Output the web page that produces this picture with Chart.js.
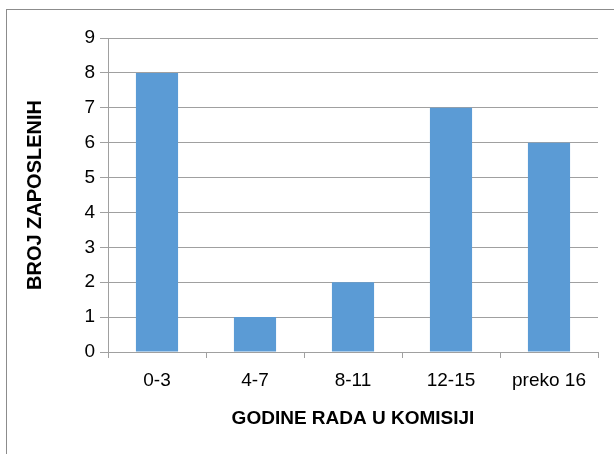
<!DOCTYPE html>
<html>
<head>
<meta charset="utf-8">
<script src="https://cdn.jsdelivr.net/npm/chart.js@4"></script>
<style>
    html, body { margin: 0; padding: 0; background: #fff; overflow: hidden; }
    #wrap { position: relative; width: 614px; height: 454px; }
    #frame {
        position: absolute; left: 6px; top: 9px; width: 700px; height: 500px;
        border-top: 1px solid #8c8c8c; border-left: 1px solid #8c8c8c;
    }
    canvas { position: absolute; left: 0; top: 0; }
</style>
</head>
<body>
<div id="wrap">
    <div id="frame"></div>
    <canvas id="chart" width="614" height="454"></canvas>
</div>
<script>
// Chart data
const categories = ['0-3', '4-7', '8-11', '12-15', 'preko 16'];
const employees = [8, 1, 2, 7, 6];
const yTicks = [0, 1, 2, 3, 4, 5, 6, 7, 8, 9];

const xTitle = 'GODINE RADA U KOMISIJI';
const yTitle = 'BROJ ZAPOSLENIH';

const FONT = "'Liberation Sans', Arial, sans-serif";
const gridColor = '#a0a0a0';

Chart.defaults.font.family = FONT;
Chart.defaults.color = '#000';

new Chart(document.getElementById('chart').getContext('2d'), {
    type: 'bar',
    data: {
        labels: categories,
        datasets: [{
            data: employees,
            backgroundColor: '#5b9bd5',
            borderWidth: 0,
            barPercentage: 0.86,
            categoryPercentage: 0.5
        }]
    },
    options: {
        responsive: false,
        animation: false,
        layout: {
            padding: { top: 38, right: 16, left: 0, bottom: 0 }
        },
        plugins: {
            legend: { display: false },
            tooltip: { enabled: false }
        },
        scales: {
            x: {
                grid: {
                    drawOnChartArea: false,
                    color: gridColor,
                    tickLength: 6
                },
                border: { color: gridColor },
                ticks: {
                    font: { size: 19 },
                    padding: 11
                },
                title: {
                    display: true,
                    text: xTitle,
                    font: { size: 19, weight: 'bold' },
                    padding: { top: 0, bottom: 24 }
                },
                afterFit: function (scale) {
                    scale.height = 102;
                }
            },
            y: {
                min: 0,
                max: 9,
                afterBuildTicks: function (scale) {
                    scale.ticks = yTicks.map(v => ({ value: v }));
                },
                grid: {
                    color: gridColor,
                    tickLength: 8
                },
                border: { color: gridColor },
                ticks: {
                    font: { size: 19 },
                    padding: 5
                },
                title: {
                    display: true,
                    text: yTitle,
                    font: { size: 20, weight: 'bold' },
                    padding: { top: 23, bottom: 0 }
                },
                afterFit: function (scale) {
                    scale.width = 108;
                }
            }
        }
    }
});
</script>
</body>
</html>
